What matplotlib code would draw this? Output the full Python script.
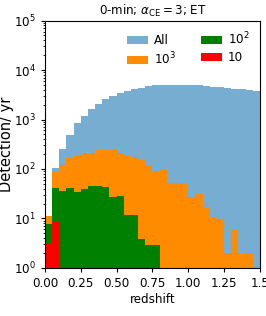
import numpy as np
import matplotlib
matplotlib.use("Agg")
import matplotlib.pyplot as plt

plt.rcParams['font.size'] = 8.6

# redshift bins (width 0.05)
z_edges = np.linspace(0.0, 1.5, 31)
z_mid = 0.5 * (z_edges[1:] + z_edges[:-1])

# detections / yr per bin
n_all = [11, 105, 255, 490, 860, 1200, 1600, 2100, 2560, 3000,
         3400, 3850, 4150, 4400, 4760, 4920, 4990, 5080, 5080, 5080,
         4990, 4920, 4760, 4630, 4480, 4330, 4220, 4080, 3890, 3720]
n_1e3 = [11, 90, 119, 163, 195, 208, 212, 257, 246, 240,
         212, 187, 175, 150, 123, 92, 100, 52, 52, 52,
         27, 31, 16.7, 10.7, 9.7, 2, 5.9, 2, 2, 0]
n_1e2 = [7.8, 41, 36.5, 41, 34, 39.5, 44.5, 46, 44, 27.6,
         29, 11.8, 11.8, 3.9, 2.9, 2.9] + [0] * 14
n_1e1 = [3, 8.7] + [0] * 28

fig = plt.figure(figsize=(2.66, 3.16), dpi=100)
ax = fig.add_axes([0.169, 0.152, 0.808, 0.783])

ax.hist(z_mid, bins=z_edges, weights=n_all, color='C0', alpha=0.6, label='All')
ax.hist(z_mid, bins=z_edges, weights=n_1e3, color='darkorange', label=r'$10^3$')
ax.hist(z_mid, bins=z_edges, weights=n_1e2, color='green', label=r'$10^2$')
ax.hist(z_mid, bins=z_edges, weights=n_1e1, color='red', label='10')

ax.set_yscale('log')
ax.set_ylim(1, 1e5)
ax.set_xlim(0, 1.5)
ax.set_xticks([0, 0.25, 0.5, 0.75, 1.0, 1.25, 1.5])
ax.set_xticklabels(['0.00', '0.25', '0.50', '0.75', '1.00', '1.25', '1.5'])
ax.tick_params(length=3)
ax.tick_params(which='minor', length=1.8)
ax.set_xlabel('redshift', labelpad=2)
ax.set_ylabel('Detection/ yr', fontsize=10.5, labelpad=0)
ax.set_title(r'0-min; $\alpha_{\rm CE}=3$; ET', fontsize=8.6, pad=4)
ax.legend(ncol=2, frameon=False, loc='upper right', handlelength=1.75,
          handletextpad=0.5, columnspacing=2.1, labelspacing=0.3,
          borderaxespad=0.45)

fig.savefig('out.png', dpi=100)
